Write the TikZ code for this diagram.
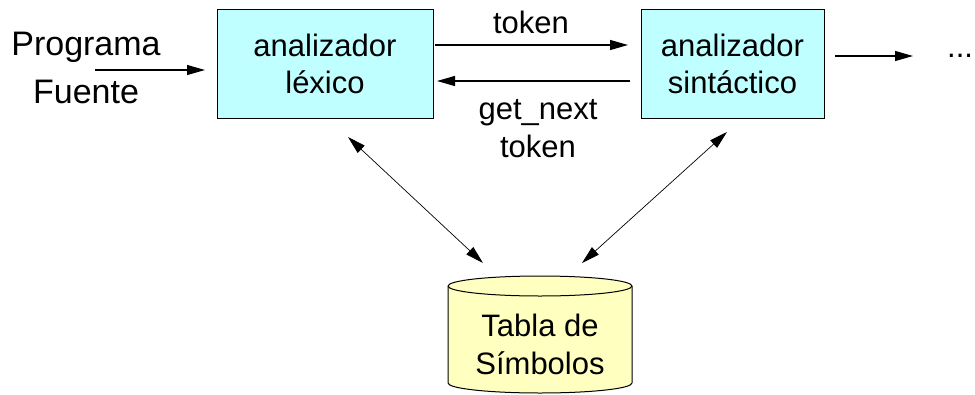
\documentclass[tikz,border=0pt]{standalone}
\usepackage{fontspec}
\setmainfont{Liberation Sans}
\usetikzlibrary{arrows.meta}
\definecolor{boxcyan}{RGB}{191,255,255}
\definecolor{dbyellow}{RGB}{255,255,191}
\begin{document}
\begin{tikzpicture}[x=1pt,y=-1pt,
  lbl/.style={font=\fontsize{31}{38}\selectfont, align=center, inner sep=0pt},
  procbox/.style={draw, line width=1pt, fill=boxcyan, minimum width=216pt, minimum height=109pt,
    font=\fontsize{31}{37}\selectfont, align=center, inner sep=0pt},
  flow/.style={line width=1.1pt, -{Triangle[length=18pt,width=10pt]}},
  link/.style={line width=0.7pt, {Triangle[length=18pt,width=10pt]}-{Triangle[length=18pt,width=10pt]}}]
\useasboundingbox (0,0) rectangle (975,394);

% processing stages
\node[procbox] (lex) at (325,63.5) {analizador\\léxico};
\node[procbox, minimum width=183pt] (sin) at (732.5,63.5) {analizador\\sintáctico};

% symbol table drawn as a cylinder
\draw[line width=1pt, fill=dbyellow]
  (448,286) -- (448,383) arc[start angle=180, end angle=0, x radius=92, y radius=10]
  -- (632,286) arc[start angle=0, end angle=-180, x radius=92, y radius=10] -- cycle;
\draw[line width=1pt] (448,286) arc[start angle=180, end angle=0, x radius=92, y radius=10];
\node[lbl] (tabla) at (540,344) {Tabla de\\Símbolos};

% text labels
\node[lbl, font=\fontsize{34}{40}\selectfont] (src) at (86,68) {Programa\\[8pt]Fuente};
\node[lbl] (tok) at (531,22) {token};
\node[lbl] (gnt) at (538,129) {get\_next\\token};
\node[lbl, anchor=west] (more) at (947,56) {...};

% connector end points
\coordinate (srcA) at (95,70);
\coordinate (srcB) at (205,70);
\coordinate (tokA) at (435,45);
\coordinate (tokB) at (628,45);
\coordinate (gntA) at (630,81);
\coordinate (gntB) at (437,81);
\coordinate (outA) at (835,56);
\coordinate (outB) at (913,56);
\coordinate (lexD) at (348,137);
\coordinate (tabL) at (483,263);
\coordinate (sinD) at (727,132);
\coordinate (tabR) at (582,263);

% connectors
\draw[flow] (srcA) -- (srcB);
\draw[flow] (tokA) -- (tokB);
\draw[flow] (gntA) -- (gntB);
\draw[flow] (outA) -- (outB);
\draw[link] (lexD) -- (tabL);
\draw[link] (sinD) -- (tabR);
\end{tikzpicture}
\end{document}
